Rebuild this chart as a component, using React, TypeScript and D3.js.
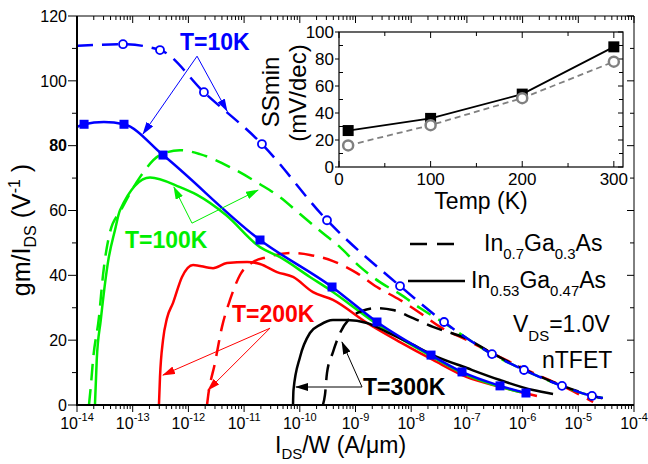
import React from "react";
import * as d3 from "d3";

type Pt = [number, number];

// ---------- main chart data: [I_DS/W (A/um), gm/I_DS (1/V)] ----------
const xDecades = [-14, -13, -12, -11, -10, -9, -8, -7, -6, -5, -4];
const yTicks = [0, 20, 40, 60, 80, 100, 120];

// T = 10 K
const in053_10K: Pt[] = [
  [1.0e-14, 85.8], [1.34e-14, 86.6], [3.05e-14, 87.3], [6.98e-14, 86.6], [3.5e-13, 77.1],
  [1.93e-11, 50.9], [3.79e-10, 36.4], [2.43e-9, 25.6], [2.27e-8, 15.4], [8.17e-8, 10.2],
  [3.93e-7, 5.9], [1.15e-6, 3.7],
];
const in053_10K_marks: Pt[] = [
  [1.34e-14, 86.6], [6.98e-14, 86.6], [3.5e-13, 77.1], [1.93e-11, 50.9], [3.79e-10, 36.4],
  [2.43e-9, 25.6], [2.27e-8, 15.4], [8.17e-8, 10.2], [3.93e-7, 5.9], [1.15e-6, 3.7],
];
const in07_10K: Pt[] = [
  [1.0e-14, 110.8], [6.7e-14, 111.3], [3.09e-13, 109.5], [1.9e-12, 96.5], [2.09e-11, 80.5],
  [3.08e-10, 57.0], [6.3e-9, 36.7], [3.89e-8, 25.6], [2.82e-7, 15.7], [1.06e-6, 10.8],
  [5.1e-6, 5.9], [1.76e-5, 2.8], [2.77e-5, 2.2],
];
const in07_10K_marks: Pt[] = [
  [6.7e-14, 111.3], [3.09e-13, 109.5], [1.9e-12, 96.5], [2.09e-11, 80.5], [3.08e-10, 57.0],
  [6.3e-9, 36.7], [3.89e-8, 25.6], [2.82e-7, 15.7], [1.06e-6, 10.8], [5.1e-6, 5.9], [1.76e-5, 2.8],
];

// T = 100 K
const in053_100K: Pt[] = [
  [2.1e-14, 0], [2.26e-14, 13.9], [2.67e-14, 26.2], [3.65e-14, 44.7], [4.81e-14, 54.0],
  [5.91e-14, 60.1], [2.05e-13, 70.2], [7.07e-13, 67.2], [1.43e-12, 64.8], [4.73e-12, 58.6],
  [1.93e-11, 48.7], [4.42e-11, 45.6], [1.52e-10, 39.5], [3.48e-10, 35.5], [2.43e-9, 25.0],
  [2.27e-8, 15.1], [8.17e-8, 9.9], [3.93e-7, 5.6], [8.97e-7, 4.0],
];
const in07_100K: Pt[] = [
  [1.64e-14, 0], [1.78e-14, 6.2], [1.94e-14, 13.9], [2.48e-14, 27.1], [2.93e-14, 40.1],
  [3.91e-14, 53.3], [6.16e-14, 60.1], [1.35e-13, 70.3], [3.09e-13, 77.1], [7.07e-13, 78.6],
  [1.61e-12, 77.4], [5.58e-12, 73.4], [1.93e-11, 68.1], [4.42e-11, 64.1], [1.01e-10, 58.9],
  [2.61e-10, 53.0], [5.27e-10, 48.7], [1.21e-9, 42.6], [2.75e-9, 37.9], [6.3e-9, 34.2],
  [1.44e-8, 29.9], [3.89e-8, 25.3], [2.82e-7, 15.7], [1.06e-6, 10.8], [5.1e-6, 5.9],
  [1.76e-5, 2.8], [2.77e-5, 2.2],
];

// T = 200 K
const in053_200K: Pt[] = [
  [2.96e-13, 0], [3.09e-13, 8.6], [3.5e-13, 20.0], [4.13e-13, 26.8], [5.3e-13, 31.5],
  [7.68e-13, 39.5], [1.21e-12, 43.2], [2.77e-12, 42.2], [4.93e-12, 43.8], [1.13e-11, 44.1],
  [1.93e-11, 43.5], [3.9e-11, 41.0], [7.55e-11, 39.5], [1.73e-10, 34.8], [3.94e-10, 32.4],
  [1.61e-9, 25.3], [6.3e-9, 19.4], [2.46e-8, 13.9], [1.0e-7, 8.6], [3.93e-7, 5.6], [1.81e-6, 2.8],
];
const in07_200K: Pt[] = [
  [2.16e-12, 0], [2.25e-12, 2.5], [3.0e-12, 13.0], [4.01e-12, 24.1], [5.58e-12, 32.4],
  [8.44e-12, 40.1], [1.44e-11, 44.1], [2.58e-11, 45.6], [6.67e-11, 46.9], [1.52e-10, 46.3],
  [3.94e-10, 44.4], [1.06e-9, 40.7], [2.43e-9, 36.4], [6.3e-9, 32.4], [1.44e-8, 28.4],
  [3.29e-8, 24.1], [1.0e-7, 20.0], [3.93e-7, 14.8], [1.54e-6, 9.9], [6.27e-6, 5.2], [1.84e-5, 0.9],
];

// T = 300 K
const in053_300K: Pt[] = [
  [7.55e-11, 0], [7.7e-11, 4.6], [1.01e-10, 14.8], [1.52e-10, 22.2], [2.31e-10, 24.7],
  [3.94e-10, 26.2], [7.03e-10, 26.2], [1.61e-9, 25.3], [3.67e-9, 22.5], [9.5e-9, 19.1],
  [2.46e-8, 15.4], [1.0e-7, 11.4], [3.93e-7, 7.7], [1.54e-6, 4.6], [3.52e-6, 3.4],
];
const in07_300K: Pt[] = [
  [2.6e-10, 0], [2.83e-10, 3.1], [3.08e-10, 9.9], [3.94e-10, 16.3], [5.27e-10, 22.2],
  [7.96e-10, 26.8], [1.31e-9, 29.0], [2.43e-9, 29.9], [4.71e-9, 29.3], [1.08e-8, 26.8],
  [2.46e-8, 24.1], [1.0e-7, 20.4], [2.82e-7, 16.0], [1.06e-6, 11.0], [5.1e-6, 6.0],
  [1.76e-5, 2.9], [2.77e-5, 2.0],
];

// ---------- inset data ----------
const insetTemps = [10, 100, 200, 300];
const ssIn053 = [27, 36, 54, 89];
const ssIn07 = [16, 31, 51, 78];
const insetXTicks = [0, 100, 200, 300];
const insetYTicks = [0, 20, 40, 60, 80, 100];

// ---------- annotation anchors (data coordinates) ----------
const arrows10K: { from: Pt; to: Pt[] } = { from: [1.43e-12, 107.6], to: [[1.53e-13, 83.6], [4.93e-12, 90.7]] };
const arrows100K: { from: Pt; to: Pt[] } = { from: [1.16e-12, 56.1], to: [[5.5e-13, 67.2], [1.78e-11, 66.3]] };
const arrows200K: { from: Pt; to: Pt[] } = { from: [2.92e-11, 23.7], to: [[3.5e-13, 9.25], [2.25e-12, 4.6]] };
const arrows300K: { from: Pt; to: Pt[] } = { from: [1.31e-9, 5.55], to: [[8.55e-11, 5.55], [5.73e-10, 19.4]] };

const BLUE = "#0000ff";
const GREEN = "#00ee00";
const RED = "#ff0000";
const BLACK = "#000000";
const GRAY = "#808080";
const FONT = "'Liberation Sans', Arial, Helvetica, sans-serif";

const W = 648;
const H = 464;
const L = 77, R = 634, T = 16, B = 405;

export default function App() {
  const x = d3.scaleLog().domain([1e-14, 1e-4]).range([L, R]);
  const y = d3.scaleLinear().domain([0, 120]).range([B, T]);

  const line = d3
    .line<Pt>()
    .x((d) => x(d[0]))
    .y((d) => y(d[1]))
    .curve(d3.curveMonotoneX);

  const ix = d3.scaleLinear().domain([0, 310]).range([339, 623]);
  const iy = d3.scaleLinear().domain([0, 100]).range([167, 32]);
  const iline = d3
    .line<[number, number]>()
    .x((d) => ix(d[0]))
    .y((d) => iy(d[1]));

  const minorX: number[] = [];
  xDecades.slice(0, -1).forEach((e) => {
    for (let k = 2; k <= 9; k++) minorX.push(k * Math.pow(10, e));
  });
  const minorY = d3.range(10, 120, 20);
  const rightTicks = d3.range(0, 121, 10);

  const dash = "16,9";

  const arrowGroup = (a: { from: Pt; to: Pt[] }, color: string, id: string) =>
    a.to.map((t, i) => (
      <line
        key={id + i}
        x1={x(a.from[0])}
        y1={y(a.from[1])}
        x2={x(t[0])}
        y2={y(t[1])}
        stroke={color}
        strokeWidth={1}
        markerEnd={`url(#${id})`}
      />
    ));

  const markerDef = (id: string, color: string) => (
    <marker
      id={id}
      markerUnits="userSpaceOnUse"
      markerWidth={13}
      markerHeight={8}
      refX={12}
      refY={4}
      orient="auto"
    >
      <path d="M0,0 L13,4 L0,8 Z" fill={color} />
    </marker>
  );

  const inset53: [number, number][] = insetTemps.map((t, i) => [t, ssIn053[i]]);
  const inset07: [number, number][] = insetTemps.map((t, i) => [t, ssIn07[i]]);

  return (
    <svg
      width={W}
      height={H}
      style={{ position: "absolute", left: 0, top: 0, background: "#fff" }}
      fontFamily={FONT}
    >
      <defs>
        <clipPath id="plot">
          <rect x={L} y={T} width={R - L} height={B - T} />
        </clipPath>
        {markerDef("ab", BLUE)}
        {markerDef("ag", GREEN)}
        {markerDef("ar", RED)}
        {markerDef("ak", BLACK)}
      </defs>
      <rect width={W} height={H} fill="#fff" />

      {/* curves */}
      <g clipPath="url(#plot)" fill="none" strokeWidth={2.5}>
        <path d={line(in07_200K) || ""} stroke={RED} strokeDasharray={dash} />
        <path d={line(in053_200K) || ""} stroke={RED} />
        <path d={line(in07_100K) || ""} stroke={GREEN} strokeDasharray={dash} />
        <path d={line(in053_100K) || ""} stroke={GREEN} />
        <path d={line(in07_300K) || ""} stroke={BLACK} strokeDasharray={dash} />
        <path d={line(in053_300K) || ""} stroke={BLACK} />
        <path d={line(in07_10K) || ""} stroke={BLUE} strokeDasharray={dash} />
        <path d={line(in053_10K) || ""} stroke={BLUE} />
        {in053_10K_marks.map((d, i) => (
          <rect key={"s" + i} x={x(d[0]) - 4.5} y={y(d[1]) - 4.5} width={9} height={9} fill={BLUE} stroke="none" />
        ))}
        {in07_10K_marks.map((d, i) => (
          <circle key={"c" + i} cx={x(d[0])} cy={y(d[1])} r={4} fill="#fff" stroke={BLUE} strokeWidth={1.8} />
        ))}
      </g>

      {/* axes frame */}
      <line x1={L} y1={T} x2={R} y2={T} stroke="#000" strokeWidth={1} />
      <line x1={R} y1={T} x2={R} y2={B} stroke="#000" strokeWidth={1} />
      <line x1={L} y1={T} x2={L} y2={B + 1} stroke="#000" strokeWidth={2} />
      <line x1={L - 1} y1={B} x2={R} y2={B} stroke="#000" strokeWidth={2} />

      {/* x ticks */}
      {xDecades.map((e) => {
        const px = x(Math.pow(10, e));
        return (
          <g key={"xd" + e}>
            <line x1={px} x2={px} y1={B} y2={B + 7} stroke="#000" strokeWidth={1} />
            <line x1={px} x2={px} y1={T} y2={T + 7} stroke="#000" strokeWidth={1} />
            <text x={px} y={429} textAnchor="middle" fontSize={16}>
              10<tspan dy={-8} fontSize={11}>{String(e)}</tspan>
            </text>
          </g>
        );
      })}
      {minorX.map((v, i) => {
        const px = x(v);
        return (
          <g key={"xm" + i}>
            <line x1={px} x2={px} y1={B} y2={B + 4} stroke="#000" strokeWidth={1} />
            <line x1={px} x2={px} y1={T} y2={T + 4} stroke="#000" strokeWidth={1} />
          </g>
        );
      })}

      {/* y ticks */}
      {yTicks.map((v) => (
        <g key={"y" + v}>
          <line x1={L - 9} x2={L} y1={y(v)} y2={y(v)} stroke="#000" strokeWidth={1} />
          <text
            x={L - 10}
            y={y(v)}
            dy="0.36em"
            textAnchor="end"
            fontSize={16}
            fontWeight={v === 80 ? "bold" : "normal"}
          >
            {v}
          </text>
        </g>
      ))}
      {minorY.map((v) => (
        <line key={"ym" + v} x1={L - 5} x2={L} y1={y(v)} y2={y(v)} stroke="#000" strokeWidth={1} />
      ))}
      {rightTicks.map((v) => (
        <line key={"yr" + v} x1={R - (v % 20 === 0 ? 7 : 4)} x2={R} y1={y(v)} y2={y(v)} stroke="#000" strokeWidth={1} />
      ))}

      {/* axis labels */}
      <text x={275} y={453} fontSize={23}>
        I<tspan dy={6} fontSize={15}>DS</tspan>
        <tspan dy={-6}>/W (A/μm)</tspan>
      </text>
      <text transform="translate(30,230) rotate(-90)" textAnchor="middle" fontSize={25}>
        gm/I<tspan dy={6} fontSize={16}>DS</tspan>
        <tspan dy={-6}> (V</tspan>
        <tspan dy={-10} fontSize={16}>-1</tspan>
        <tspan dy={10}> )</tspan>
      </text>

      {/* annotations */}
      {arrowGroup(arrows10K, BLUE, "ab")}
      {arrowGroup(arrows100K, GREEN, "ag")}
      {arrowGroup(arrows200K, RED, "ar")}
      {arrowGroup(arrows300K, BLACK, "ak")}
      <text x={180} y={50} fontSize={23} fontWeight="bold" fill={BLUE}>T=10K</text>
      <text x={125} y={248} fontSize={23} fontWeight="bold" fill={GREEN}>T=100K</text>
      <text x={232} y={322} fontSize={23} fontWeight="bold" fill={RED}>T=200K</text>
      <text x={363} y={395} fontSize={23} fontWeight="bold" fill={BLACK}>T=300K</text>

      {/* legend */}
      <line x1={410} x2={463} y1={244} y2={244} stroke="#000" strokeWidth={2.5} strokeDasharray="17,10" />
      <text x={484} y={251} fontSize={23}>
        In<tspan dy={8} fontSize={15}>0.7</tspan>
        <tspan dy={-8}>Ga</tspan>
        <tspan dy={8} fontSize={15}>0.3</tspan>
        <tspan dy={-8}>As</tspan>
      </text>
      <line x1={408} x2={465} y1={281} y2={281} stroke="#000" strokeWidth={2.5} />
      <text x={471} y={288} fontSize={23}>
        In<tspan dy={8} fontSize={15}>0.53</tspan>
        <tspan dy={-8}>Ga</tspan>
        <tspan dy={8} fontSize={15}>0.47</tspan>
        <tspan dy={-8}>As</tspan>
      </text>
      <text x={513} y={332} fontSize={23}>
        V<tspan dy={9} fontSize={15}>DS</tspan>
        <tspan dy={-9}>=1.0V</tspan>
      </text>
      <text x={542} y={368} fontSize={23}>nTFET</text>

      {/* inset */}
      <rect x={339} y={32} width={284} height={135} fill="#fff" stroke="#000" strokeWidth={1.2} />
      {insetXTicks.map((v) => (
        <g key={"ix" + v}>
          <line x1={ix(v)} x2={ix(v)} y1={167} y2={161} stroke="#000" />
          <line x1={ix(v)} x2={ix(v)} y1={32} y2={38} stroke="#000" />
          <text x={ix(v)} y={185} textAnchor="middle" fontSize={17}>{v}</text>
        </g>
      ))}
      {[50, 150, 250].map((v) => (
        <g key={"ixm" + v}>
          <line x1={ix(v)} x2={ix(v)} y1={167} y2={163} stroke="#000" />
          <line x1={ix(v)} x2={ix(v)} y1={32} y2={36} stroke="#000" />
        </g>
      ))}
      {insetYTicks.map((v) => (
        <g key={"iy" + v}>
          <line x1={335} x2={339} y1={iy(v)} y2={iy(v)} stroke="#000" />
          <line x1={623} x2={618} y1={iy(v)} y2={iy(v)} stroke="#000" />
          <text x={334} y={iy(v)} dy="0.36em" textAnchor="end" fontSize={17}>{v}</text>
        </g>
      ))}
      {[10, 30, 50, 70, 90].map((v) => (
        <g key={"iym" + v}>
          <line x1={339} x2={343} y1={iy(v)} y2={iy(v)} stroke="#000" />
          <line x1={623} x2={619} y1={iy(v)} y2={iy(v)} stroke="#000" />
        </g>
      ))}
      <path d={iline(inset07) || ""} fill="none" stroke={GRAY} strokeWidth={1.8} strokeDasharray="6,4" />
      <path d={iline(inset53) || ""} fill="none" stroke="#000" strokeWidth={1.8} />
      {inset53.map((d, i) => (
        <rect key={"is" + i} x={ix(d[0]) - 5.5} y={iy(d[1]) - 5.5} width={11} height={11} fill="#000" />
      ))}
      {inset07.map((d, i) => (
        <circle key={"ic" + i} cx={ix(d[0])} cy={iy(d[1])} r={5} fill="#fff" stroke={GRAY} strokeWidth={2.5} />
      ))}
      <text x={481} y={209} textAnchor="middle" fontSize={23}>Temp (K)</text>
      <text transform="translate(279,92) rotate(-90)" textAnchor="middle" fontSize={24}>SSmin</text>
      <text transform="translate(306,93) rotate(-90)" textAnchor="middle" fontSize={24}>(mV/dec)</text>
    </svg>
  );
}
